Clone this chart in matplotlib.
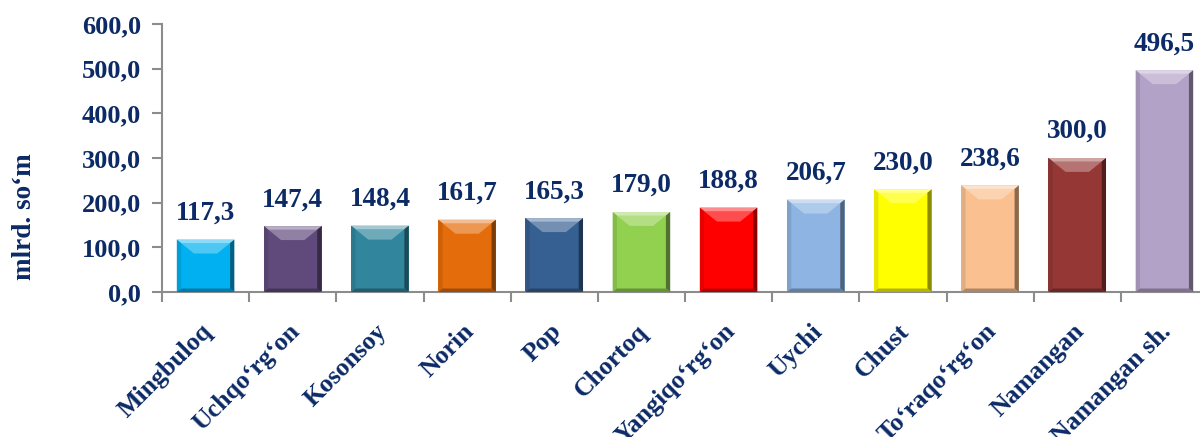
import matplotlib
matplotlib.use("Agg")
import matplotlib.pyplot as plt
from matplotlib.patches import Polygon
from matplotlib.transforms import ScaledTranslation
import matplotlib.colors as mc
import numpy as np

categories = ["Mingbuloq", "Uchqo\u2018rg\u2018on", "Kosonsoy", "Norin", "Pop", "Chortoq",
              "Yangiqo\u2018rg\u2018on", "Uychi", "Chust", "To\u2018raqo\u2018rg\u2018on", "Namangan", "Namangan sh."]
values = [117.3, 147.4, 148.4, 161.7, 165.3, 179.0, 188.8, 206.7, 230.0, 238.6, 300.0, 496.5]
colors = ["#00B0F0", "#604A7B", "#31859C", "#E46C0A", "#376092", "#92D050",
          "#FF0000", "#8DB4E2", "#FFFF00", "#FAC090", "#953735", "#B3A2C7"]
yticks = [0, 100, 200, 300, 400, 500, 600]
ylabel = "mlrd. so\u2018m"

navy = "#0B2A66"
plt.rcParams['font.family'] = ['Liberation Serif', 'DejaVu Serif']
plt.rcParams['font.weight'] = 'bold'

fig = plt.figure(figsize=(12, 4.37), dpi=100)
W, H = 1200, 437
left_px, right_px, top_px, bot_px = 162, 1208, 24, 292
ax = fig.add_axes([left_px / W, 1 - bot_px / H, (right_px - left_px) / W, (bot_px - top_px) / H])

x = np.arange(len(categories))
bars = ax.bar(x, values, width=0.66, color=colors, edgecolor='none', zorder=2)


def shade(c, f):
    r, g, b = mc.to_rgb(c)
    if f > 0:
        return (r + (1 - r) * f, g + (1 - g) * f, b + (1 - b) * f)
    return (r * (1 + f), g * (1 + f), b * (1 + f))


# bevel effect derived from each bar's geometry
fig.canvas.draw()
inv = ax.transData.inverted()
for b, c in zip(bars, colors):
    x0, y0 = b.get_x(), b.get_y()
    w, h = b.get_width(), b.get_height()
    p0 = ax.transData.transform((x0, y0))
    dx = inv.transform((p0[0] + 16, p0[1]))[0] - x0
    dy = inv.transform((p0[0], p0[1] + 16))[1] - y0
    dyb = inv.transform((p0[0], p0[1] + 4))[1] - y0
    dxs = inv.transform((p0[0] + 4, p0[1]))[0] - x0
    top = Polygon([(x0, y0 + h), (x0 + w, y0 + h), (x0 + w - dx, y0 + h - dy), (x0 + dx, y0 + h - dy)],
                  closed=True, facecolor=shade(c, 0.3), edgecolor='none', zorder=3)
    topedge = Polygon([(x0, y0 + h), (x0 + w, y0 + h), (x0 + w - dxs, y0 + h - dyb), (x0 + dxs, y0 + h - dyb)],
                      closed=True, facecolor=shade(c, 0.55), edgecolor='none', zorder=3)
    right = Polygon([(x0 + w, y0), (x0 + w, y0 + h), (x0 + w - dxs, y0 + h - dyb), (x0 + w - dxs, y0 + dyb)],
                    closed=True, facecolor=shade(c, -0.45), edgecolor='none', zorder=3)
    leftp = Polygon([(x0, y0), (x0, y0 + h), (x0 + dxs, y0 + h - dyb), (x0 + dxs, y0 + dyb)],
                    closed=True, facecolor=shade(c, -0.1), edgecolor='none', zorder=3)
    bottom = Polygon([(x0, y0), (x0 + w, y0), (x0 + w - dxs, y0 + dyb), (x0 + dxs, y0 + dyb)],
                     closed=True, facecolor=shade(c, -0.3), edgecolor='none', zorder=3)
    for p in (top, topedge, right, leftp, bottom):
        ax.add_patch(p)

for xi, v in zip(x, values):
    ax.annotate(f"{v:.1f}".replace('.', ','), (xi, v), xytext=(0, 10), textcoords='offset points',
                ha='center', va='bottom', fontsize=19.5, fontweight='bold', color=navy, zorder=4)

ax.set_xlim(-0.5, len(categories) - 0.5)
ax.set_ylim(0, 600)
ax.set_yticks(yticks)
ax.set_yticklabels([f"{t:.1f}".replace('.', ',') for t in yticks], fontsize=19, fontweight='bold', color=navy)
ax.set_xticks(x)
ax.set_xticklabels(categories, rotation=45, ha='right', rotation_mode='anchor',
                   fontsize=18.5, fontweight='bold', color=navy)
ax.set_xticks(np.arange(len(categories) + 1) - 0.5, minor=True)
ax.tick_params(axis='x', which='major', length=0, pad=20)
ax.tick_params(axis='x', which='minor', length=7, color='#8C8C8C', width=1.5)
ax.tick_params(axis='y', length=7, color='#8C8C8C', width=1.5, pad=8)

shift = ScaledTranslation(-5 / 100, 0, fig.dpi_scale_trans)
for lab in ax.get_xticklabels():
    lab.set_transform(lab.get_transform() + shift)

for s in ('top', 'right'):
    ax.spines[s].set_visible(False)
for s in ('left', 'bottom'):
    ax.spines[s].set_color('#8C8C8C')
    ax.spines[s].set_linewidth(1.5)

fig.text(25 / W, 1 - 217 / H, ylabel, rotation=90, ha='center', va='center',
         fontsize=19.5, fontweight='bold', color=navy)

fig.savefig("out.png", dpi=100)
